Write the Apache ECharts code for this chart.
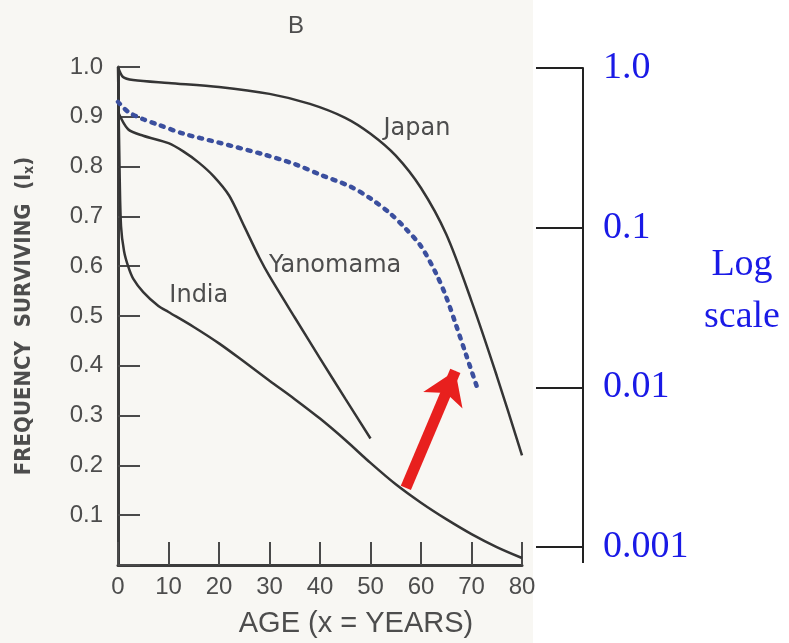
<!DOCTYPE html>
<html>
<head>
<meta charset="utf-8">
<script src="https://cdn.jsdelivr.net/npm/echarts@6/dist/echarts.min.js"></script>
<style>
  html, body { margin: 0; padding: 0; background: #ffffff; }
  #chart { width: 789px; height: 643px; }
</style>
</head>
<body>
<div id="chart"></div>
<script>
var chart = echarts.init(document.getElementById('chart'));

// survivorship curves: [age, frequency surviving]
var japan = [[0, 1.0], [1, 0.98], [3, 0.974], [10, 0.968], [20, 0.96], [30, 0.946], [38, 0.926], [45, 0.898],
  [50, 0.866], [55, 0.822], [60, 0.757], [65, 0.664], [70, 0.53], [75, 0.38], [80, 0.22]];
var yanomama = [[0, 0.91], [2, 0.875], [5, 0.862], [10, 0.847], [13, 0.83], [16, 0.808], [19, 0.78],
  [22, 0.742], [25, 0.68], [28, 0.617], [30, 0.58], [35, 0.497], [40, 0.415], [45, 0.334], [50, 0.254]];
var india = [[0, 1.0], [0.3, 0.8], [0.6, 0.68], [1.2, 0.63], [2, 0.6], [3, 0.575], [5, 0.548], [8, 0.52],
  [10, 0.508], [15, 0.478], [20, 0.445], [25, 0.408], [30, 0.37], [35, 0.333], [40, 0.294], [45, 0.251],
  [50, 0.205], [55, 0.162], [60, 0.125], [65, 0.092], [70, 0.062], [75, 0.036], [80, 0.014]];
// hand-drawn blue dotted curve
var dotted = [[0, 0.93], [2, 0.91], [5, 0.895], [8, 0.884], [13, 0.866], [20, 0.848], [29, 0.824], [35, 0.805],
  [40, 0.784], [46, 0.76], [50, 0.736], [54, 0.705], [57, 0.675], [60, 0.64], [63, 0.585], [65, 0.538],
  [67, 0.48], [69, 0.42], [71, 0.36]];
// red arrow: tail and head
var arrow = [[57, 0.155], [66.8, 0.39]];

var curveLabels = [
  { name: 'Japan', at: [59.2, 0.876] },
  { name: 'Yanomama', at: [43, 0.6] },
  { name: 'India', at: [16, 0.54] }
];
var logTicks = { 1: '1.0', 0.1: '0.1', 0.01: '0.01', 0.001: '0.001' };

var grey = '#4d4d4d';
var blue = '#1a1ae6';
var sans = 'Liberation Sans';

function curve(name, data, idx) {
  var lab = curveLabels[idx];
  return {
    name: name,
    type: 'line',
    data: data,
    smooth: 0.3,
    symbol: 'none',
    lineStyle: { color: '#353535', width: 2.5 },
    markPoint: {
      symbol: 'circle',
      symbolSize: 0,
      data: [{ coord: lab.at }],
      label: {
        show: true, position: 'inside', formatter: lab.name,
        color: grey, fontSize: 24, fontFamily: 'DejaVu Sans'
      }
    },
    z: 3
  };
}

var option = {
  backgroundColor: '#ffffff',
  title: {
    text: 'B', left: 283, top: 9,
    textStyle: { color: grey, fontSize: 24, fontWeight: 'normal', fontFamily: sans }
  },
  graphic: [
    { type: 'rect', z: -10, shape: { x: 0, y: 0, width: 533, height: 643 }, style: { fill: '#f8f7f3' } },
    { type: 'line', shape: { x1: 583, y1: 547, x2: 583, y2: 563 }, style: { stroke: '#222', lineWidth: 2 } },
    {
      type: 'text', x: 742, y: 291,
      style: {
        text: 'Log\nscale', fill: blue, font: '38px "Liberation Serif"', lineHeight: 52,
        align: 'center', verticalAlign: 'middle'
      }
    }
  ],
  grid: [
    { left: 118, top: 67, width: 404, height: 500 },
    { left: 536, top: 68, width: 47, height: 479 }
  ],
  xAxis: [{
    type: 'value', gridIndex: 0, min: 0, max: 80, interval: 10,
    name: 'AGE (x = YEARS)', nameLocation: 'middle', nameGap: 44,
    nameTextStyle: { color: grey, fontSize: 29, fontFamily: sans, padding: [0, 0, 0, 72] },
    axisLine: { lineStyle: { color: '#3c3c3c', width: 3 } },
    axisTick: { inside: true, length: 23, lineStyle: { color: '#4a4a4a', width: 2 } },
    axisLabel: { margin: 10, color: grey, fontSize: 24, fontFamily: sans },
    splitLine: { show: false }
  }, {
    type: 'value', gridIndex: 1, show: false, min: 0, max: 1
  }],
  yAxis: [{
    type: 'value', gridIndex: 0, min: 0, max: 1, interval: 0.1,
    name: '{a|FREQUENCY  SURVIVING  (l}{s|x}{a|)}', nameLocation: 'middle', nameRotate: 90, nameGap: 82,
    nameTextStyle: {
      rich: {
        a: { color: grey, fontSize: 22, fontWeight: 'bold', fontFamily: 'DejaVu Sans Condensed' },
        s: { color: grey, fontSize: 14, fontWeight: 'bold', fontFamily: 'DejaVu Sans Condensed', padding: [9, 0, 0, 0] }
      }
    },
    axisLine: { show: true, lineStyle: { color: '#3c3c3c', width: 3 } },
    axisTick: { inside: true, length: 22, lineStyle: { color: '#4a4a4a', width: 2 } },
    axisLabel: {
      margin: 15, color: grey, fontSize: 24, fontFamily: sans,
      formatter: function (v) { return v === 0 ? '' : v.toFixed(1); }
    },
    splitLine: { show: false }
  }, {
    type: 'log', gridIndex: 1, min: 0.001, max: 1, logBase: 10, position: 'right',
    axisLine: { show: true, onZero: false, lineStyle: { color: '#222', width: 2 } },
    axisTick: { show: true, inside: true, length: 47, lineStyle: { color: '#222', width: 2 } },
    axisLabel: {
      margin: 20, color: blue, fontSize: 38, fontFamily: 'Liberation Serif',
      formatter: function (v) {
        var key = Object.keys(logTicks).find(function (k) { return Math.abs(+k - v) < v * 1e-6; });
        return key ? logTicks[key] : '';
      }
    },
    splitLine: { show: false }
  }],
  series: [
    curve('Japan', japan, 0),
    curve('Yanomama', yanomama, 1),
    curve('India', india, 2),
    {
      name: 'dotted', type: 'line', data: dotted, smooth: 0.3, symbol: 'none',
      lineStyle: { color: '#3b4f9e', width: 4.5, type: [3, 7], cap: 'round' }, z: 4
    },
    {
      name: 'arrow', type: 'lines', coordinateSystem: 'cartesian2d',
      symbol: ['none', 'arrow'], symbolSize: 32,
      lineStyle: { color: '#e8201e', width: 11, opacity: 1, curveness: 0 },
      data: [{ coords: arrow }], z: 5
    }
  ]
};

chart.setOption(option);
</script>
</body>
</html>
